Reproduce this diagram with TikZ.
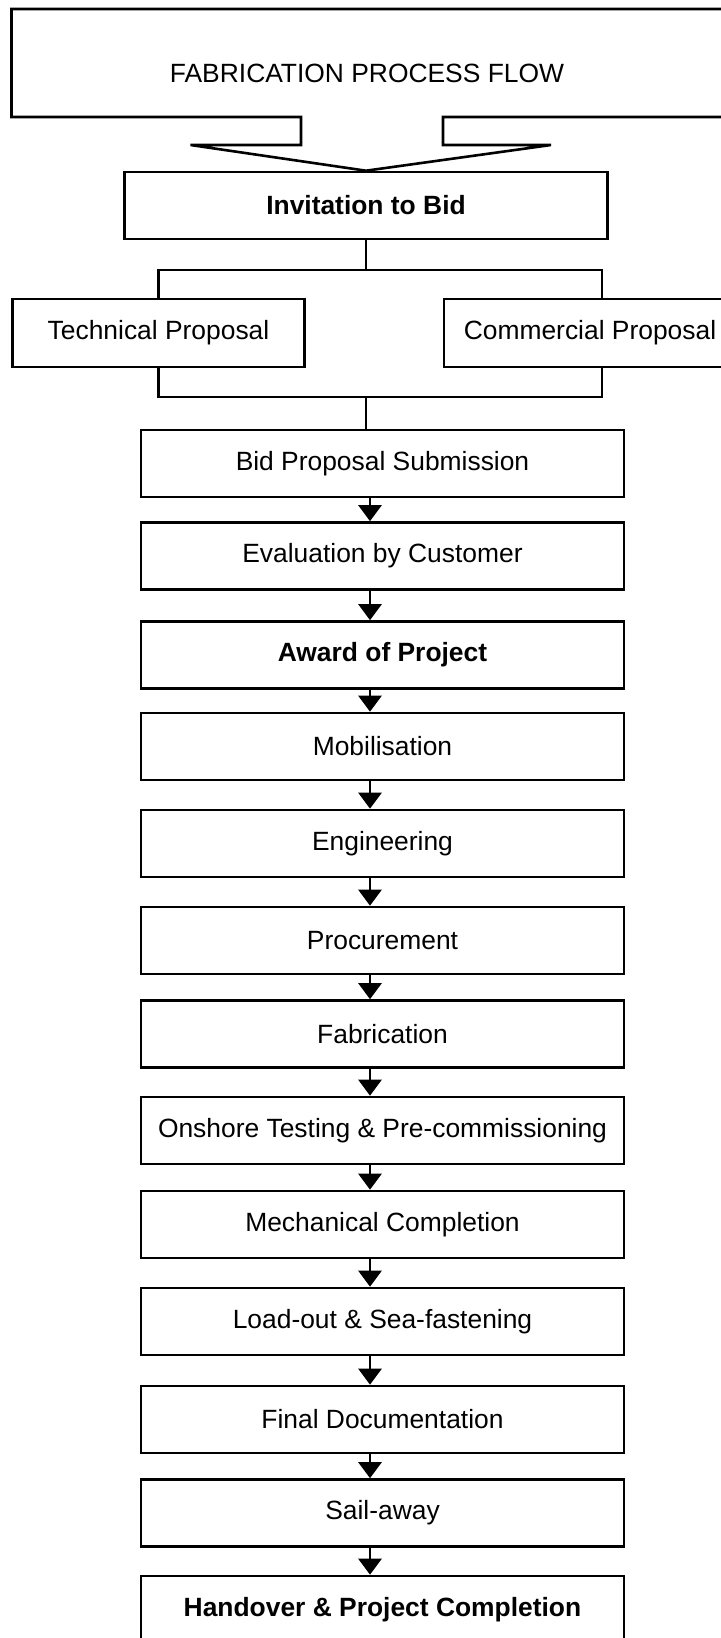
\documentclass[tikz,border=0pt]{standalone}
\usepackage{fontspec}
\setmainfont{Liberation Sans}
\usepackage{tikz}
\usetikzlibrary{arrows.meta,positioning}

\begin{document}
\begin{tikzpicture}[x=0.5pt,y=0.5pt]
\tikzstyle{every node}+=[inner sep=0pt,font=\fontsize{13.2}{15}\selectfont]
\tikzstyle{stepbox}=[draw=black,line width=1.3pt,minimum width=241.5pt,minimum height=33.5pt]
\tikzstyle{keybox}=[stepbox,font=\fontsize{13.2}{15}\selectfont\bfseries]
\tikzstyle{sidebox}=[stepbox,minimum width=146pt,minimum height=34pt]
\tikzstyle{link}=[line width=1.3pt]
\tikzstyle{flow}=[link,-{Triangle[width=11.5pt,length=8pt]}]
\useasboundingbox (0,0) rectangle (720,-1638);
% heading and bid stage
\node (title) at (367,-73) {FABRICATION PROCESS FLOW};
\node [keybox] (invite) at (366,-205.5) {Invitation to Bid};
\node [sidebox] (tech) at (158.5,-333) {Technical Proposal};
\node [sidebox] (comm) at (590,-333) {Commercial Proposal};
\draw [link] (724,-9) -- (11.5,-9) -- (11.5,-117) -- (301,-117) -- (301,-145) -- (190.5,-145) -- (invite.north) -- (551,-145) -- (443,-145) -- (443,-117) -- (724,-117);
\coordinate (split) at (366,-270);
\coordinate (splitR) at (602,-270);
\coordinate (merge) at (366,-397);
\coordinate (mergeR) at (602,-397);
\coordinate (axis) at (370,0);
% process steps
\node [stepbox] (bid) at (382.5,-463.5) {Bid Proposal Submission};
\node [stepbox] (eval) at (382.5,-556) {Evaluation by Customer};
\node [keybox] (award) at (382.5,-655) {Award of Project};
\node [stepbox] (mob) at (382.5,-746.5) {Mobilisation};
\node [stepbox] (eng) at (382.5,-843.5) {Engineering};
\node [stepbox] (proc) at (382.5,-940.5) {Procurement};
\node [stepbox] (fab) at (382.5,-1034) {Fabrication};
\node [stepbox] (onshore) at (382.5,-1130.5) {Onshore Testing \& Pre-commissioning};
\node [stepbox] (mech) at (382.5,-1224.5) {Mechanical Completion};
\node [stepbox] (load) at (382.5,-1321.5) {Load-out \& Sea-fastening};
\node [stepbox] (final) at (382.5,-1419.5) {Final Documentation};
\node [stepbox] (sail) at (382.5,-1513) {Sail-away};
\node [keybox] (hand) at (382.5,-1609.5) {Handover \& Project Completion};
% connectors
\draw [link] (invite.south) -- (split);
\draw [link] (tech.north) |- (splitR) -- (splitR |- comm.north);
\draw [link] (tech.south) |- (mergeR) -- (mergeR |- comm.south);
\draw [link] (merge) -- (merge |- bid.north);
\draw [flow] (bid.south -| axis) -- (eval.north -| axis);
\draw [flow] (eval.south -| axis) -- (award.north -| axis);
\draw [flow] (award.south -| axis) -- (mob.north -| axis);
\draw [flow] (mob.south -| axis) -- (eng.north -| axis);
\draw [flow] (eng.south -| axis) -- (proc.north -| axis);
\draw [flow] (proc.south -| axis) -- (fab.north -| axis);
\draw [flow] (fab.south -| axis) -- (onshore.north -| axis);
\draw [flow] (onshore.south -| axis) -- (mech.north -| axis);
\draw [flow] (mech.south -| axis) -- (load.north -| axis);
\draw [flow] (load.south -| axis) -- (final.north -| axis);
\draw [flow] (final.south -| axis) -- (sail.north -| axis);
\draw [flow] (sail.south -| axis) -- (hand.north -| axis);
\end{tikzpicture}
\end{document}
